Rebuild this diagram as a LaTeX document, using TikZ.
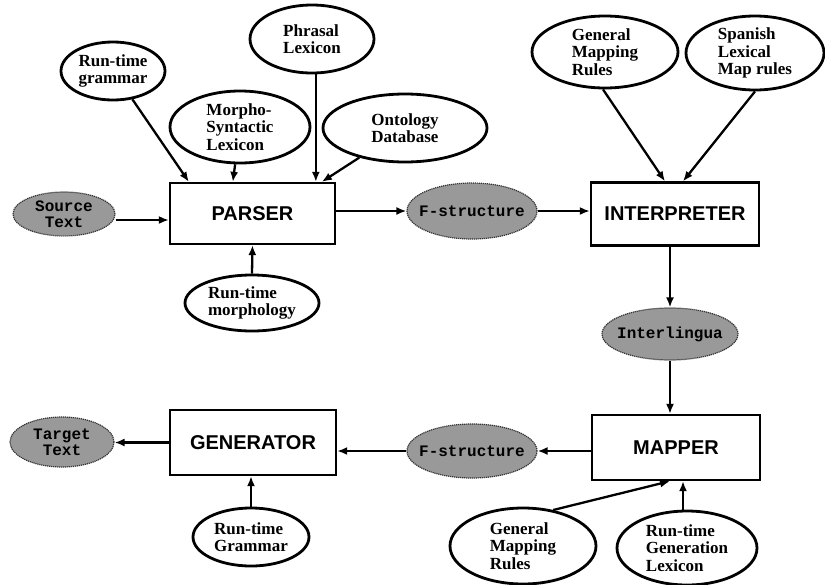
\documentclass[tikz,border=0pt]{standalone}
\usepackage{fontspec}
\setmainfont{Liberation Serif}
\setsansfont{Liberation Sans}
\setmonofont{Liberation Mono}
\usetikzlibrary{shapes.geometric,arrows.meta}
\begin{document}
\begin{tikzpicture}[x=1pt,y=-1pt,
  res/.style={ellipse, draw, line width=2.8pt, align=left, inner xsep=-30pt, inner ysep=-20pt,
    font=\rmfamily\bfseries\fontsize{17}{17.5}\selectfont},
  dat/.style={ellipse, draw=black!80, line width=1.2pt, dash pattern=on 1.2pt off 0.8pt, fill=black!40,
    align=center, inner xsep=-40pt, inner ysep=-20pt,
    font=\ttfamily\bfseries\fontsize{16}{16.5}\selectfont},
  proc/.style={rectangle, draw, line width=2.3pt, inner sep=0pt,
    font=\sffamily\bfseries\fontsize{20}{24}\selectfont},
  arr/.style={line width=2.3pt, -{Latex[length=10pt,width=8pt]}}]
\useasboundingbox (0,0) rectangle (825,584);

% nodes
\node[res, minimum width=104pt, minimum height=58pt] (rtg) at (113,71) {Run-time\\grammar};
\node[res, minimum width=124pt, minimum height=68pt] (phr) at (312,39) {Phrasal\\Lexicon};
\node[res, minimum width=140pt, minimum height=72pt] (mor) at (240,127) {Morpho-\\Syntactic\\Lexicon};
\node[res, minimum width=164pt, minimum height=68pt] (ont) at (405,128) {Ontology\\Database};
\node[proc, minimum width=165pt, minimum height=61pt] (parser) at (252.5,213.5) {PARSER};
\node[dat, minimum width=102pt, minimum height=44pt] (src) at (64,214) {Source\\Text};
\node[res, minimum width=134pt, minimum height=56pt] (morph) at (252,303) {Run-time\\morphology};
\node[dat, minimum width=130pt, minimum height=56pt] (fs1) at (472,211) {F-structure};
\node[res, minimum width=146pt, minimum height=72pt] (gmr1) at (605,52) {General\\Mapping\\Rules};
\node[res, minimum width=138pt, minimum height=74pt] (slm) at (755,53) {Spanish\\Lexical\\Map rules};
\node[proc, minimum width=168pt, minimum height=63pt] (interp) at (675,214) {INTERPRETER};
\node[dat, minimum width=136pt, minimum height=52pt] (inter) at (670,334) {Interlingua};
\node[proc, minimum width=168pt, minimum height=65pt] (mapper) at (676,447.5) {MAPPER};
\node[dat, minimum width=130pt, minimum height=54pt] (fs2) at (472,451) {F-structure};
\node[proc, minimum width=166pt, minimum height=65pt] (gen) at (253,442.5) {GENERATOR};
\node[dat, minimum width=104pt, minimum height=50pt] (tgt) at (62,442) {Target\\Text};
\node[res, minimum width=116pt, minimum height=58pt] (rtG) at (251,537) {Run-time\\Grammar};
\node[res, minimum width=146pt, minimum height=76pt] (gmr2) at (523,546) {General\\Mapping\\Rules};
\node[res, minimum width=140pt, minimum height=74pt] (rgl) at (687,548) {Run-time\\Generation\\Lexicon};

% helper coordinates on box borders
\coordinate (p1) at ([xshift=20pt]parser.north west);
\coordinate (p2) at ([xshift=64pt]parser.north west);
\coordinate (p3) at ([xshift=147pt]parser.north west);
\coordinate (p4) at ([xshift=153pt]parser.north west);
\coordinate (i1) at ([xshift=-10pt]interp.north);
\coordinate (i2) at ([xshift=8pt]interp.north);
\coordinate (m1) at ([xshift=-6pt]mapper.south);
\coordinate (m2) at ([xshift=7pt]mapper.south);

% connectors
\draw[arr] (rtg) -- (p1);
\draw[arr] (mor) -- (p2);
\draw[arr] (phr.south -| p3) -- (p3);
\draw[arr] (ont) -- (p4);
\draw[arr] ([yshift=-6pt]src.east) -- ([yshift=-6pt]src.east -| parser.west);
\draw[arr] (morph.north) -- (parser.south);
\draw[arr] (parser.east |- fs1.west) -- (fs1.west);
\draw[arr] (fs1.east) -- (fs1.east -| interp.west);
\draw[arr] ([xshift=-2pt]gmr1.south) -- (i1);
\draw[arr] (slm.south) -- (i2);
\draw[arr] (interp.south -| inter.north) -- (inter.north);
\draw[arr] (inter.south) -- (inter.south |- mapper.north);
\draw[arr] (fs2.east -| mapper.west) -- (fs2.east);
\draw[arr] (fs2.west) -- (fs2.west -| gen.east);
\draw[arr] (gen.west) -- (gen.west -| tgt.east);
\draw[arr] (rtG.north) -- (rtG.north |- gen.south);
\draw[arr] (gmr2.50) -- (m1);
\draw[arr] (rgl.north -| m2) -- (m2);
\end{tikzpicture}
\end{document}
